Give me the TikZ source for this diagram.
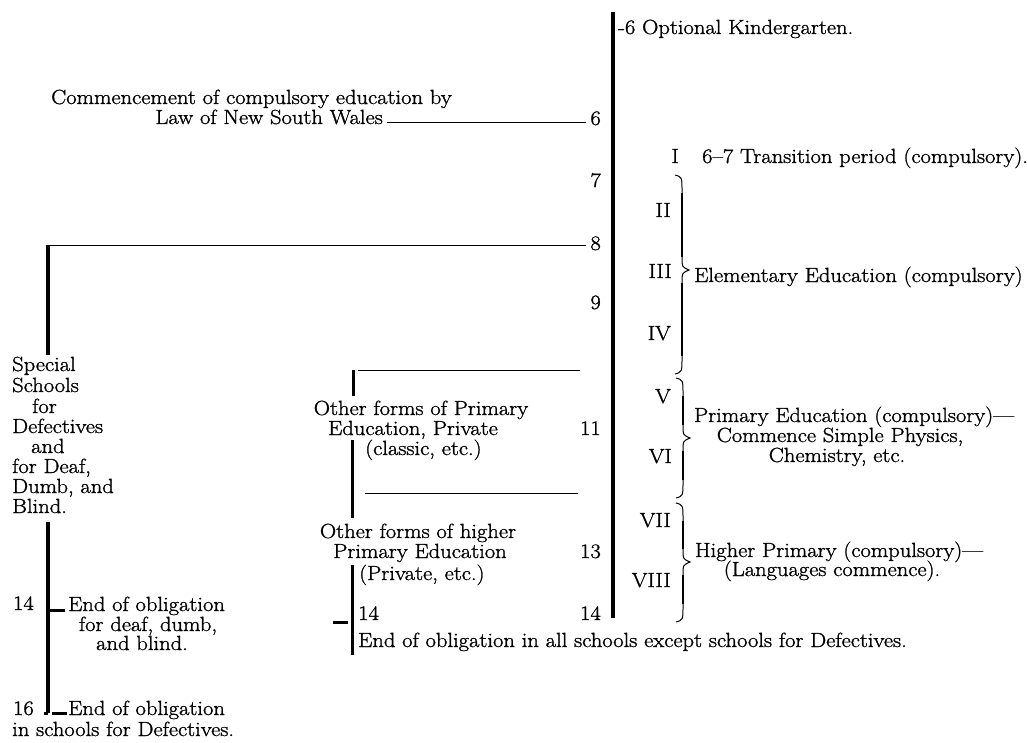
\documentclass[tikz,border=0pt]{standalone}
\usepackage{fontspec}
\setmainfont{Latin Modern Roman}[FakeStretch=1.1, FakeBold=1.2]
\newcommand\edubrace[4]{%
  \draw[line width=1pt] (#1,#2) .. controls ({#1+7},{#2+2}) .. ({#1+7},{#2+16})
    -- ({#1+7},{#3-12}) .. controls ({#1+7},{#3-3}) .. ({#1+14},#3)
    .. controls ({#1+7},{#3+3}) .. ({#1+7},{#3+12})
    -- ({#1+7},{#4-16}) .. controls ({#1+7},{#4-2}) .. (#1,#4);
  \draw[line width=2.9pt] ({#1+7},{#2+18}) -- ({#1+7},{#3-13});
  \draw[line width=2.9pt] ({#1+7},{#3+13}) -- ({#1+7},{#4-18});
}
\begin{document}
\begin{tikzpicture}[x=1pt,y=-1pt,
  txt/.style={inner sep=0pt, font=\fontsize{20.5}{20}\selectfont},
  thinline/.style={line width=0.8pt},
  mainbar/.style={line width=4.5pt},
  sidebar/.style={line width=3.6pt},
  midbar/.style={line width=3pt},
  notch/.style={line width=3pt}]
\useasboundingbox[fill=white] (0,0) rectangle (1027,743);

% main vertical bar
\coordinate (mtop) at (613,12);
\coordinate (mbot) at (613,618);
\draw[mainbar] (mtop) -- (mbot);

% top texts
\node[txt, anchor=base west] (kg) at (618,34) {-6 Optional Kindergarten.};
\node[txt, anchor=base west] (commA) at (51,104) {Commencement of compulsory education by};
\node[txt, anchor=base east] (commB) at (383,124) {Law of New South Wales};
\node[txt, anchor=base east] (trI) at (679,163) {I};
\node[txt, anchor=base west] (trtxt) at (702,163) {6--7 Transition period (compulsory).};

% ages
\node[txt, anchor=base east] (a6) at (601,125) {6};
\node[txt, anchor=base east] (a7) at (601,187) {7};
\node[txt, anchor=base east] (a8) at (601,250) {8};
\node[txt, anchor=base east] (a9) at (601,309) {9};
\node[txt, anchor=base east] (a11) at (601,435) {11};
\node[txt, anchor=base east] (a13) at (601,558) {13};
\node[txt, anchor=base east] (a14) at (601,620) {14};

% classes
\node[txt, anchor=base east] (rII) at (671,217) {II};
\node[txt, anchor=base east] (rIII) at (672,278) {III};
\node[txt, anchor=base east] (rIV) at (671,340) {IV};
\node[txt, anchor=base east] (rV) at (671,403) {V};
\node[txt, anchor=base east] (rVI) at (672,463) {VI};
\node[txt, anchor=base east] (rVII) at (671,527) {VII};
\node[txt, anchor=base east] (rVIII) at (671,587) {VIII};

% braces
\edubrace{675}{175}{270}{374}
\edubrace{676}{378}{438}{498}
\edubrace{676}{503}{562}{622}

% right texts
\node[txt, anchor=base west] (elem) at (694,282) {Elementary Education (compulsory)};
\node[txt, anchor=base] (prim1) at (854,422) {Primary Education (compulsory)---};
\node[txt, anchor=base] (prim2) at (840,442) {Commence Simple Physics,};
\node[txt, anchor=base] (prim3) at (837,462) {Chemistry, etc.};
\node[txt, anchor=base] (high1) at (839,557) {Higher Primary (compulsory)---};
\node[txt, anchor=base] (high2) at (832,576) {(Languages commence).};

% lines to 6 and 8
\coordinate (l6a) at (387,122);
\coordinate (l6b) at (586,122);
\draw[thinline] (l6a) -- (l6b);
\coordinate (l8a) at (47,245);
\coordinate (l8b) at (586,245);
\draw[thinline] (l8a) -- (l8b);
\coordinate (lb1) at (48,245);
\coordinate (lb2) at (48,355);
\draw[sidebar] (lb1) -- (lb2);

% special schools
\foreach \t/\x/\y [count=\i] in {Special/12/371, Schools/12/392, for/32/413,
   Defectives/12/433, and/31/453, {for Deaf,}/12/473, {Dumb, and}/12/493, Blind./12/513}
  \node[txt, anchor=base west] (sp\i) at (\x,\y) {\t};

% lower left bar
\coordinate (lb3) at (48,522);
\coordinate (lb4) at (48,713);
\coordinate (lb5) at (44,713);
\draw[sidebar] (lb3) -- (lb4);
\draw[notch] (lb5) -- (lb4);
\coordinate (n14a) at (50,610);
\coordinate (n14b) at (65,610);
\draw[notch] (n14a) -- (n14b);
\coordinate (n16a) at (52,713);
\coordinate (n16b) at (67,713);
\draw[notch] (n16a) -- (n16b);

\node[txt, anchor=base east] (l14) at (34,610) {14};
\node[txt, anchor=base west] (eo1) at (68,611) {End of obligation};
\node[txt, anchor=base] (eo2) at (148,631) {for deaf, dumb,};
\node[txt, anchor=base] (eo3) at (142,650) {and blind.};
\node[txt, anchor=base east] (l16) at (34,715) {16};
\node[txt, anchor=base west] (ed1) at (68,715) {End of obligation};
\node[txt, anchor=base west] (ed2) at (12,736) {in schools for Defectives.};

% middle column
\coordinate (mt1) at (353,370);
\coordinate (mt2) at (353,396);
\draw[midbar] (mt1) -- (mt2);
\coordinate (ml1a) at (358,370);
\coordinate (ml1b) at (580,370);
\draw[thinline] (ml1a) -- (ml1b);
\node[txt, anchor=base] (ofp1) at (421,415) {Other forms of Primary};
\node[txt, anchor=base] (ofp2) at (413,435) {Education, Private};
\node[txt, anchor=base west] (ofp3) at (365,455) {(classic, etc.)};
\coordinate (mb1) at (352,440);
\coordinate (mb2) at (352,518);
\draw[midbar] (mb1) -- (mb2);
\coordinate (ml2a) at (365,493);
\coordinate (ml2b) at (578,493);
\draw[thinline] (ml2a) -- (ml2b);
\node[txt, anchor=base] (ofh1) at (418,538) {Other forms of higher};
\node[txt, anchor=base] (ofh2) at (420,558) {Primary Education};
\node[txt, anchor=base west] (ofh3) at (359,580) {(Private, etc.)};
\coordinate (mc1) at (352,565);
\coordinate (mc2) at (352,655);
\draw[midbar] (mc1) -- (mc2);
\coordinate (mn1) at (333,622);
\coordinate (mn2) at (348,622);
\draw[notch] (mn1) -- (mn2);
\node[txt, anchor=base west] (m14) at (358,620) {14};
\node[txt, anchor=base west] (endall) at (358,647) {End of obligation in all schools except schools for Defectives.};
\end{tikzpicture}
\end{document}
